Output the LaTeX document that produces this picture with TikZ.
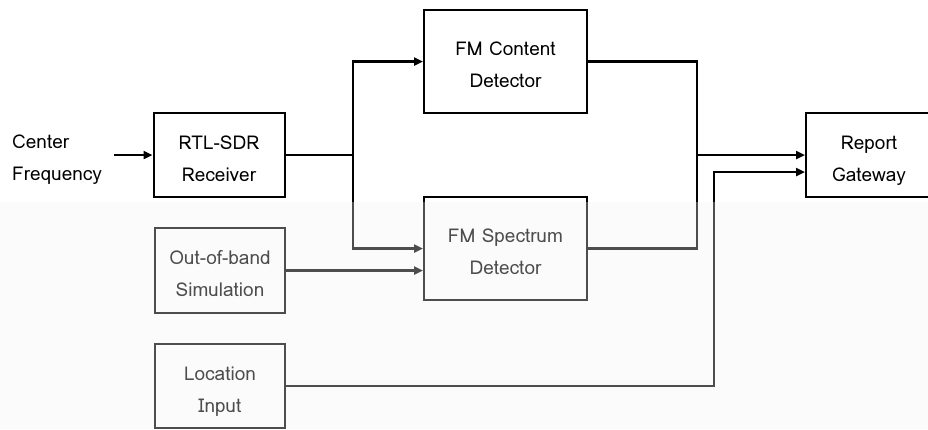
\documentclass[tikz,border=0pt]{standalone}
\usepackage{fontspec}
\setmainfont{Loma}
\usepackage{xcolor}
\usetikzlibrary{arrows.meta,positioning,calc}

\begin{document}
\begin{tikzpicture}[x=1pt,y=-1pt, every node/.style={font=\fontsize{19}{32}\selectfont,align=center,inner sep=0pt},
  blk/.style={draw,line width=2pt,minimum width=131pt,minimum height=84pt,text height=60pt,text depth=8pt},
  ln/.style={line width=2.5pt},
  arr/.style={ln,-{Triangle[length=9pt,width=8pt]}}]
  \useasboundingbox (0,0) rectangle (928,429);
  \fill[black!2] (0,202) rectangle (928,429);
  \node[align=left,anchor=west] (cf) at (12,160) {Center\\Frequency};
  \node[blk] (rtl) at (219,155) {RTL-SDR\\Receiver};
  \node[blk,minimum width=163pt,minimum height=103pt] (fmc) at (505.5,61.5) {FM Content\\Detector};
  \node[blk,minimum width=163pt,minimum height=103pt] (fms) at (505.5,248.5) {FM Spectrum\\Detector};
  \node[blk,minimum width=130pt,minimum height=85pt] (oob) at (220,270.5) {Out-of-band\\Simulation};
  \node[blk,minimum width=130pt,minimum height=84pt] (loc) at (220,386) {Location\\Input};
  \node[blk,minimum width=126pt] (rg) at (869,155) {Report\\Gateway};
  \coordinate (cfe) at (114,155);
  % receiver splits to both detectors
  \draw[arr] (cfe) -- (rtl);
  \draw[ln] (rtl.east) -- (353,155);
  \draw[arr] (353,155) |- (fmc.west);
  \draw[arr] (353,155) |- (fms.west);
  \draw[arr] (oob.east) -- (oob.east -| fms.west);
  % detectors to gateway
  \draw[ln] (fmc.east) -| (697,248.5) -- (fms.east);
  \draw[arr] (697,155) -- (rg.west);
  \draw[arr] (loc.east) -| (714,172) -- (rg.west |- 0,172);
  \fill[white,opacity=0.3] (0,202) rectangle (928,429);
\end{tikzpicture}
\end{document}
